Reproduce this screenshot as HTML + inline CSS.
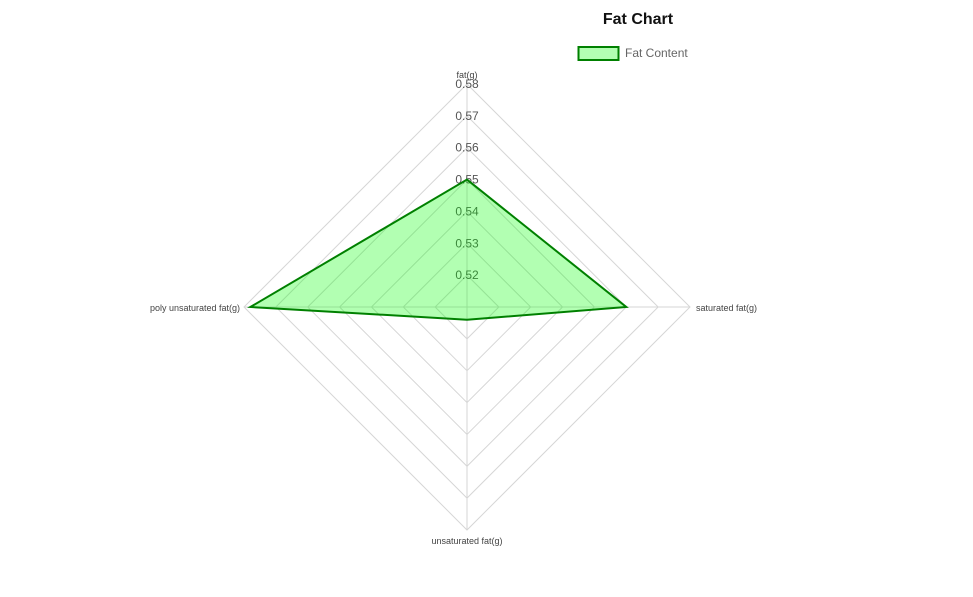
<!DOCTYPE html>
<html><head><meta charset="utf-8"><style>
body{margin:0;background:#fff;}
svg{display:block;font-family:"Liberation Sans",Arial,sans-serif;}
</style></head><body>
<svg id="chart" width="973" height="597">
<text x="638" y="24" text-anchor="middle" font-size="16" font-weight="bold" fill="#111">Fat Chart</text>
<g>
<rect x="578.5" y="47" width="40" height="13" fill="rgba(0,255,0,0.3)" stroke="#008000" stroke-width="2"/>
<text x="625" y="57" font-size="12" fill="#666">Fat Content</text>
</g>
<g id="grid"></g><g id="ticks"></g><g id="series"></g><g id="labels"></g>
</svg>
<script>
const categories=["fat(g)","saturated fat(g)","unsaturated fat(g)","poly unsaturated fat(g)"];
const values=[0.55,0.56,0.514,0.578];
const tickValues=[0.52,0.53,0.54,0.55,0.56,0.57,0.58];
const scaleMin=0.51, scaleMax=0.58;
const cx=467, cy=307, R=223;
const NS="http://www.w3.org/2000/svg";
function rScale(v){return (v-scaleMin)/(scaleMax-scaleMin)*R;}
function pt(i,r){const a=-Math.PI/2+i*2*Math.PI/categories.length;return [cx+r*Math.cos(a),cy+r*Math.sin(a)];}
function mk(tag,attrs,parent){const e=document.createElementNS(NS,tag);for(const k in attrs)e.setAttribute(k,attrs[k]);parent.appendChild(e);return e;}
const grid=document.getElementById('grid');
tickValues.forEach((t,j)=>{
  const r=rScale(t);
  const pts=categories.map((c,i)=>pt(i,r).join(',')).join(' ');
  const p=mk('polygon',{points:pts,fill:'none',stroke:'#d6d6d6','stroke-width':1},grid);
  
  
});
categories.forEach((c,i)=>{
  const [x,y]=pt(i,R);
  const l=mk('line',{x1:cx,y1:cy,x2:x,y2:y,stroke:'#d6d6d6','stroke-width':1},grid);
  
  
});
const ticks=document.getElementById('ticks');
tickValues.forEach(t=>{
  const y=cy-rScale(t);
  const tx=mk('text',{x:cx,y:y+4,'text-anchor':'middle','font-size':12,fill:'#555'},ticks);
  tx.textContent=t.toFixed(2);
  
  
});
const series=document.getElementById('series');
const poly=mk('polygon',{points:values.map((v,i)=>pt(i,rScale(v)).join(',')).join(' '),fill:'rgba(0,255,0,0.3)',stroke:'#008000','stroke-width':2},series);


const labels=document.getElementById('labels');
categories.forEach((c,i)=>{
  let [x,y]=pt(i,R);let anchor='middle';
  if(i===0){y-=6;}else if(i===1){x+=6;y+=4;anchor='start';}else if(i===2){y+=14;}else{x-=4;y+=4;anchor='end';}
  const tx=mk('text',{x:x,y:y,'text-anchor':anchor,'font-size':9,fill:'#444'},labels);
  tx.textContent=c;
  
  
});
</script>
</body></html>
